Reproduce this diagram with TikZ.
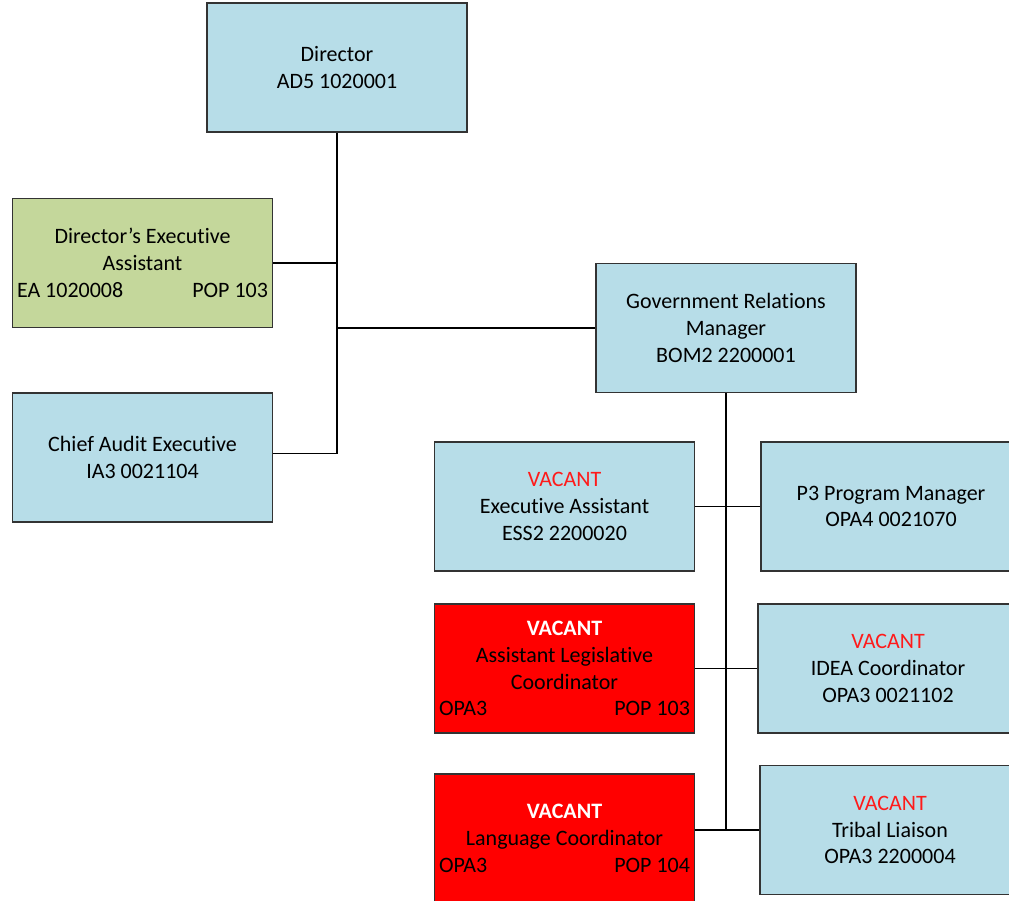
\documentclass[tikz,border=0pt]{standalone}
\usepackage{fontspec}
\setmainfont{Carlito}[Ligatures=NoCommon]
\definecolor{boxblue}{HTML}{B7DDE8}
\definecolor{boxgreen}{HTML}{C4D79B}
\definecolor{boxred}{HTML}{FF0000}
\definecolor{vacred}{HTML}{FF1A1A}
\newcommand{\fsz}{\fontsize{22}{26.8}\selectfont}
\newcommand{\vac}{\textcolor{vacred}{VACANT}}
\newcommand{\vacw}{\textcolor{white}{\bfseries VACANT}}
\newcommand{\lr}[2]{\makebox[251pt]{#1\hfill #2}}
\tikzset{
  orgbox/.style={draw=black!80, line width=1.3pt, minimum width=260pt, minimum height=129pt,
    align=center, inner sep=0pt, font=\fsz, text=black},
  bluebox/.style={orgbox, fill=boxblue},
  greenbox/.style={orgbox, fill=boxgreen},
  redbox/.style={orgbox, fill=boxred},
  conn/.style={draw=black, line width=1.3pt}
}
\begin{document}
\begin{tikzpicture}[x=1pt, y=-1pt]
\useasboundingbox (0,0) rectangle (1009,900);
\clip (0,0) rectangle (1009,900);
\fill[white] (0,0) rectangle (1009,900);

\node[bluebox] (dir) at (337,67.5) {Director\\AD5 1020001};
\node[greenbox] (dea) at (142.5,263) {Director’s Executive\\Assistant\\\lr{EA 1020008}{POP 103}};
\node[bluebox] (cae) at (142.5,457.5) {Chief Audit Executive\\IA3 0021104};
\node[bluebox] (grm) at (726,328) {Government Relations\\Manager\\BOM2 2200001};

\node[bluebox] (ea) at (564.5,506.5) {\vac\\Executive Assistant\\ESS2 2200020};
\node[bluebox] (p3) at (891,506.5) {P3 Program Manager\\OPA4 0021070};
\node[redbox] (alc) at (564.5,668.5) {\vacw\\Assistant Legislative\\Coordinator\\\lr{OPA3}{POP 103}};
\node[bluebox] (idea) at (888,668.5) {\vac\\IDEA Coordinator\\OPA3 0021102};
\node[redbox] (lang) at (564.5,838.5) {\vacw\\Language Coordinator\\\lr{OPA3}{POP 104}};
\node[bluebox] (tribal) at (890,830) {\vac\\Tribal Liaison\\OPA3 2200004};

\coordinate (caej) at ([yshift=4pt]cae.east);
\draw[conn] (dir.south) -- (dir.south |- caej) -- (caej);
\draw[conn] (dea.east) -- (dir.south |- dea.east);
\draw[conn] (dir.south |- grm.west) -- (grm.west);

\draw[conn] (grm.south) -- (grm.south |- tribal.west);
\draw[conn] (ea.east) -- (p3.west);
\draw[conn] (alc.east) -- (idea.west);
\draw[conn] (lang.east |- tribal.west) -- (tribal.west);
\end{tikzpicture}
\end{document}
